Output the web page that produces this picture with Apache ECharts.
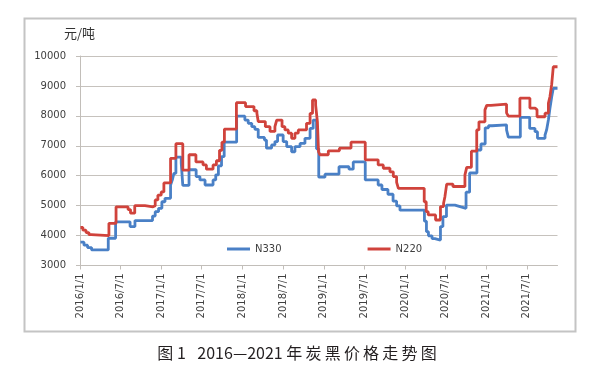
<!DOCTYPE html>
<html>
<head>
<meta charset="utf-8">
<script src="https://cdn.jsdelivr.net/npm/echarts@6/dist/echarts.min.js"></script>
<style>html,body{margin:0;padding:0;background:#fff}#c{width:592px;height:383px}</style>
</head>
<body>
<div id="c"></div>
<script>
// ---- data ----
const tickLabels = ['2016/1/1','2016/7/1','2017/1/1','2017/7/1','2018/1/1','2018/7/1','2019/1/1','2019/7/1','2020/1/1','2020/7/1','2021/1/1','2021/7/1'];
const xStart = '2016/1/1';
const xEnd = '2021/11/16';
const yMin = 3000, yMax = 10000, yStep = 1000;
const unitLabel = '元/吨';
const seriesNames = ['N330', 'N220'];
const captionText = '图 1\u2002 2016—2021 年\u2009炭\u2009黑\u2009价\u2009格\u2009走\u2009势\u2009图';

const n330Dates = ['2016-01-03','2016-01-19','2016-02-04','2016-02-22','2016-05-07','2016-06-09','2016-08-13','2016-09-04','2016-11-22','2016-12-04','2016-12-19','2017-01-03','2017-01-17','2017-02-11','2017-02-19','2017-02-26','2017-03-07','2017-03-31','2017-04-07','2017-05-05','2017-06-06','2017-06-23','2017-07-16','2017-08-21','2017-09-02','2017-09-14','2017-09-28','2017-10-10','2017-12-05','2018-01-11','2018-01-26','2018-02-11','2018-02-25','2018-03-12','2018-04-09','2018-04-18','2018-05-11','2018-05-26','2018-06-07','2018-07-02','2018-07-18','2018-08-09','2018-08-24','2018-09-16','2018-10-08','2018-10-31','2018-11-14','2018-11-29','2018-12-09','2019-01-06','2019-03-10','2019-04-24','2019-05-13','2019-07-06','2019-09-02','2019-09-19','2019-10-16','2019-11-08','2019-11-24','2019-12-09','2020-03-28','2020-04-06','2020-04-15','2020-05-01','2020-05-14','2020-06-08','2020-06-19','2020-07-05','2020-08-12','2020-09-08','2020-10-01','2020-10-17','2020-11-19','2020-12-07','2020-12-26','2021-01-10','2021-01-26','2021-04-01','2021-04-09','2021-06-02','2021-07-14','2021-08-07','2021-08-18','2021-09-21','2021-09-28','2021-10-06','2021-10-13','2021-10-21','2021-10-28','2021-11-16'];
const n330Values = [3780,3680,3600,3520,3910,4460,4300,4500,4650,4800,4910,5130,5245,5690,5860,6080,6620,6420,5680,6200,5970,5860,5690,5860,6030,6330,6640,7120,7990,7860,7750,7640,7550,7280,7190,6920,7030,7140,7360,7140,6970,6800,6970,7080,7250,7580,7860,6900,5950,6050,6300,6220,6460,5860,5690,5540,5380,5150,4990,4850,4480,4130,3990,3900,3850,4300,4630,5020,4960,4910,5450,6090,6860,7060,7600,7670,7700,7530,7290,7950,7580,7470,7250,7360,7530,7860,8250,8640,8920,8920];

const n220Dates = ['2016-01-03','2016-01-14','2016-01-28','2016-02-10','2016-02-21','2016-05-10','2016-06-11','2016-08-04','2016-08-15','2016-09-03','2016-10-19','2016-11-24','2016-12-04','2016-12-16','2016-12-31','2017-01-12','2017-02-11','2017-03-07','2017-04-07','2017-05-05','2017-06-05','2017-07-07','2017-07-22','2017-08-21','2017-09-05','2017-09-19','2017-09-30','2017-10-11','2017-12-04','2018-01-14','2018-02-21','2018-03-06','2018-03-12','2018-04-13','2018-05-04','2018-05-26','2018-06-03','2018-06-27','2018-07-10','2018-07-25','2018-08-09','2018-08-24','2018-09-08','2018-10-15','2018-10-31','2018-11-11','2018-11-25','2018-12-03','2018-12-08','2018-12-14','2019-01-21','2019-03-12','2019-05-03','2019-07-06','2019-09-02','2019-09-25','2019-10-25','2019-11-09','2019-11-24','2019-12-02','2020-03-27','2020-04-05','2020-04-14','2020-05-17','2020-06-08','2020-06-22','2020-06-28','2020-07-06','2020-08-03','2020-09-26','2020-10-04','2020-10-25','2020-11-18','2020-11-28','2020-12-25','2021-01-02','2021-01-21','2021-04-01','2021-04-09','2021-05-31','2021-07-15','2021-08-07','2021-08-16','2021-09-21','2021-10-06','2021-10-13','2021-10-21','2021-10-28','2021-11-16'];
const n220Values = [4270,4180,4100,4030,4000,4410,4960,4870,4750,5000,4960,5000,5190,5350,5460,5760,6580,7070,6190,6700,6460,6360,6220,6360,6500,6850,7120,7560,8440,8310,8170,8090,7810,7640,7480,7640,7860,7640,7530,7420,7250,7420,7530,7750,8080,8530,8360,7800,6800,6700,6830,6920,7120,6530,6360,6250,6130,5970,5780,5580,5130,4800,4690,4520,4970,5080,5300,5720,5640,6030,6280,6820,7530,7800,8200,8350,8390,8100,7990,8590,8260,8200,7970,8090,8420,8640,9060,9640,9640];

// ---- helpers: x is measured in days since xStart on a linear value axis ----
const DAY = 86400000;
function toMs(s){ const p = s.split(/[\/-]/).map(Number); return Date.UTC(p[0], p[1]-1, p[2]); }
const t0 = toMs(xStart);
const toDay = s => Math.round((toMs(s) - t0) / DAY);
function fmt(v){ const d = new Date(t0 + v * DAY); return d.getUTCFullYear() + '/' + (d.getUTCMonth()+1) + '/' + d.getUTCDate(); }
const tickValues = tickLabels.map(toDay);
const zip = (ds, vs) => ds.map((d, i) => [toDay(d), vs[i]]);

const FONT = 'DejaVu Sans';
const chart = echarts.init(document.getElementById('c'), null, {renderer: 'canvas'});
chart.setOption({
  animation: false,
  backgroundColor: '#ffffff',
  grid: {left: 80, right: 34.5, top: 56, bottom: 117.5, containLabel: false},
  legend: {
    data: seriesNames, left: 222, top: 239, icon: 'rect', itemWidth: 23, itemHeight: 3, itemGap: 86,
    textStyle: {fontFamily: FONT, fontSize: 10, color: '#404040'}
  },
  xAxis: {
    type: 'value', min: 0, max: toDay(xEnd),
    axisLine: {show: true, lineStyle: {color: '#c2beb9', width: 1}},
    axisTick: {show: true, length: 4, lineStyle: {color: '#c2beb9'}, customValues: tickValues},
    axisLabel: {rotate: 90, margin: 8, fontFamily: FONT, fontSize: 10, color: '#404040', customValues: tickValues, formatter: fmt, hideOverlap: false},
    splitLine: {show: false}
  },
  yAxis: {
    type: 'value', min: yMin, max: yMax, interval: yStep,
    axisLine: {show: true, lineStyle: {color: '#c2beb9', width: 1}},
    axisTick: {show: true, length: 4, lineStyle: {color: '#c2beb9'}},
    axisLabel: {margin: 14, fontFamily: FONT, fontSize: 10, color: '#404040', formatter: v => String(v)},
    splitLine: {show: true, lineStyle: {color: '#c6c2bd', width: 1}}
  },
  series: [
    {name: seriesNames[0], type: 'line', step: 'end', symbol: 'none', color: '#4a80c6',
     lineStyle: {width: 2.8, color: '#4a80c6'}, data: zip(n330Dates, n330Values)},
    {name: seriesNames[1], type: 'line', step: 'end', symbol: 'none', color: '#d0433c',
     lineStyle: {width: 2.8, color: '#d0433c'}, data: zip(n220Dates, n220Values)}
  ],
  graphic: [
    {type: 'rect', left: 22, top: 16, shape: {x: 0, y: 0, width: 551, height: 313}, style: {fill: 'none', stroke: '#c4c4c4', lineWidth: 2}, silent: true, z: -1},
    {type: 'text', x: 64, y: 33, style: {text: unitLabel, fontFamily: 'Noto Sans CJK SC', fontSize: 13, fill: '#333', verticalAlign: 'middle'}},
    {type: 'text', x: 297, y: 353, style: {text: captionText, fontFamily: 'Noto Sans CJK SC', fontSize: 16, fill: '#231f20', align: 'center', verticalAlign: 'middle'}}
  ]
});
</script>
</body>
</html>
